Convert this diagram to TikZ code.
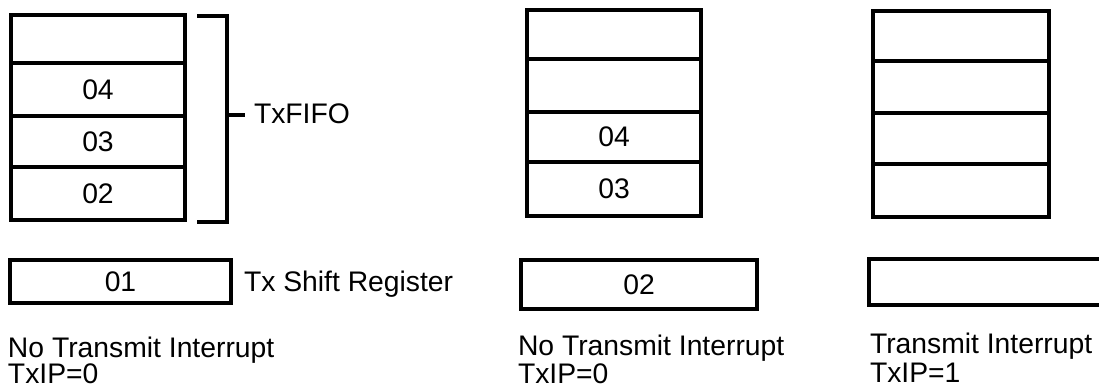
\documentclass[tikz,border=0pt]{standalone}
\usepackage{fontspec}
\setmainfont{Liberation Sans}
\begin{document}
\begin{tikzpicture}[x=1pt,y=-1pt,
  every node/.style={font=\fontsize{28.3}{28}\selectfont, inner sep=0pt, outer sep=0pt},
  cell/.style={draw, line width=4pt, minimum width=174pt},
  shiftreg/.style={draw, line width=4pt},
  lbl/.style={anchor=base west},
  brk/.style={line width=3.8pt}]
\useasboundingbox (0,0) rectangle (1099,388);
% Stack 1
\node[cell, minimum height=48pt] (s1a) at (98,39) {};
\node[cell, minimum height=53pt] (s1b) at (98,89.5) {04};
\node[cell, minimum height=51pt] (s1c) at (98,141.5) {03};
\node[cell, minimum height=53pt] (s1d) at (98,193.5) {02};
% Bracket
\coordinate (bt) at (197,16);
\coordinate (bb) at (197,222);
\coordinate (bm) at (227,115);
\coordinate (bme) at (245,115);
\draw[brk] (bt) -| (bm) |- (bb);
\draw[brk] (bm) -- (bme);
\node[lbl] (fifo) at (254,123) {TxFIFO};
% Shift register 1
\node[shiftreg, minimum width=221pt, minimum height=43pt] (r1) at (120.5,281.5) {01};
\node[lbl] (rlbl) at (244,291) {Tx Shift Register};
\node[lbl] (t1a) at (8,357) {No Transmit Interrupt};
\node[lbl] (t1b) at (8,383) {TxIP=0};
% Stack 2
\node[cell, minimum height=49pt] (s2a) at (614,34.5) {};
\node[cell, minimum height=53pt] (s2b) at (614,85.5) {};
\node[cell, minimum height=50pt] (s2c) at (614,137) {04};
\node[cell, minimum height=54pt] (s2d) at (614,189) {03};
\node[shiftreg, minimum width=236pt, minimum height=49pt] (r2) at (639,284.5) {02};
\node[lbl] (t2a) at (518,355) {No Transmit Interrupt};
\node[lbl] (t2b) at (518,383) {TxIP=0};
% Stack 3
\node[cell, minimum width=176pt, minimum height=50pt] (s3a) at (961,36) {};
\node[cell, minimum width=176pt, minimum height=52pt] (s3b) at (961,87) {};
\node[cell, minimum width=176pt, minimum height=51pt] (s3c) at (961,138.5) {};
\node[cell, minimum width=176pt, minimum height=53pt] (s3d) at (961,190.5) {};
\coordinate (r3tr) at (1110,259);
\coordinate (r3bl) at (869,305);
\draw[line width=4pt] (r3tr) -| (r3bl) -- (1110,305);
\node[lbl] (t3a) at (870,353) {Transmit Interrupt};
\node[lbl] (t3b) at (870,382) {TxIP=1};
\end{tikzpicture}
\end{document}
